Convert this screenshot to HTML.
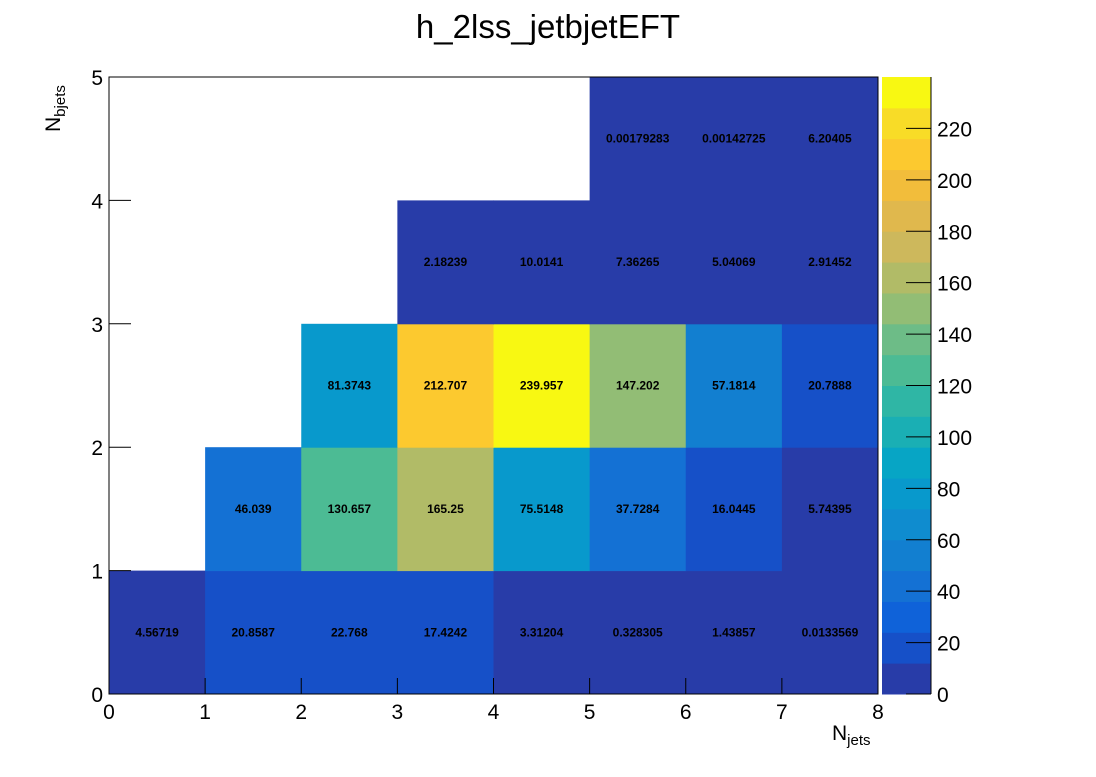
<!DOCTYPE html>
<html><head><meta charset="utf-8"><style>
body{margin:0;background:#fff;}
svg text{font-family:"Liberation Sans",sans-serif;}
</style></head><body>
<svg id="c" width="1096" height="772" xmlns="http://www.w3.org/2000/svg">
<text x="548" y="38" font-size="33" text-anchor="middle">h_2lss_jetbjetEFT</text>
<g id="cells"></g>
<g id="axes"></g>
</svg>
<script>
const xEdges = [0,1,2,3,4,5,6,7,8];
const yEdges = [0,1,2,3,4,5];
const row0 = [4.56719,20.8587,22.768,17.4242,3.31204,0.328305,1.43857,0.0133569];
const row1 = [null,46.039,130.657,165.25,75.5148,37.7284,16.0445,5.74395];
const row2 = [null,null,81.3743,212.707,239.957,147.202,57.1814,20.7888];
const row3 = [null,null,null,2.18239,10.0141,7.36265,5.04069,2.91452];
const row4 = [null,null,null,null,null,0.00179283,0.00142725,6.20405];
const zTicks = [0,20,40,60,80,100,120,140,160,180,200,220];
const zMax = 240;
const bandColors = ['#283ca8','#1650c8','#0f62d9','#1471d4','#127fd0','#0f8ccf','#0899cc','#07a5c5','#1aafb4','#2fb6a5','#4cbb94','#6dbc87','#92bd75','#b1bb67','#cdb85c','#e0b84d','#f2bd3b','#fcc92f','#f8dc27','#f8f812'];
const rows = [row0,row1,row2,row3,row4];
const NS='http://www.w3.org/2000/svg';
const X0=109,X1=878,Y0=694,Y1=77;
const sx=v=>X0+(v-xEdges[0])/(xEdges[xEdges.length-1]-xEdges[0])*(X1-X0);
const sy=v=>Y0-(v-yEdges[0])/(yEdges[yEdges.length-1]-yEdges[0])*(Y0-Y1);
const PZ0=694,PZ1=77;
const sz=v=>PZ0-v/zMax*(PZ0-PZ1);
function mk(t,a,p){const e=document.createElementNS(NS,t);for(const k in a)e.setAttribute(k,a[k]);p.appendChild(e);return e;}
const cells=document.getElementById('cells'), axes=document.getElementById('axes');
function col(v){let i=Math.floor(v/zMax*bandColors.length);if(i<0)i=0;if(i>=bandColors.length)i=bandColors.length-1;return bandColors[i];}
rows.forEach((r,j)=>r.forEach((v,i)=>{
  if(v===null)return;
  const x=sx(xEdges[i]),x2=sx(xEdges[i+1]),y=sy(yEdges[j+1]),y2=sy(yEdges[j]);
  const rc=mk('rect',{x:x,y:y,width:x2-x+0.5,height:y2-y+0.5,fill:col(v)},cells);
  
  
  const t=mk('text',{x:(x+x2)/2,y:(y+y2)/2+4,'font-size':12,'font-weight':'bold','text-anchor':'middle'},cells);
  
  
  t.textContent=String(v);
}));
const frame=mk('rect',{x:X0,y:Y1,width:X1-X0,height:Y0-Y1,fill:'none',stroke:'#000','stroke-width':1},axes);


xEdges.forEach(v=>{
  const x=sx(v);
  mk('line',{x1:x,x2:x,y1:Y0,y2:Y0-16,stroke:'#000'},axes);
  const t=mk('text',{x:x,y:719,'font-size':21,'text-anchor':'middle'},axes);
  
  
  t.textContent=v;
});
yEdges.forEach(v=>{
  const y=sy(v);
  mk('line',{x1:X0,x2:X0+22,y1:y,y2:y,stroke:'#000'},axes);
  const t=mk('text',{x:103,y:y+8,'font-size':21,'text-anchor':'end'},axes);
  
  
  t.textContent=v;
});
bandColors.forEach((c,i)=>{
  const ya=sz((i+1)*zMax/bandColors.length),yb=sz(i*zMax/bandColors.length);
  const r=mk('rect',{x:882,y:ya,width:49,height:yb-ya+0.5,fill:c},axes);
  
  
});
zTicks.forEach(v=>{
  const y=sz(v);
  mk('line',{x1:906,x2:931,y1:y,y2:y,stroke:'#000'},axes);
  const t=mk('text',{x:937,y:y+8,'font-size':21},axes);
  
  
  t.textContent=v;
});
mk('line',{x1:931,x2:931,y1:77,y2:694,stroke:'#000'},axes);
</script>
<div style="position:absolute;left:832px;top:722px;font:21px 'Liberation Sans',sans-serif;">N<sub style="font-size:15px">jets</sub></div>
<div style="position:absolute;left:0;top:0;width:110px;height:30px;transform-origin:0 0;transform:translate(42px,132px) rotate(-90deg);font:21px 'Liberation Sans',sans-serif;white-space:nowrap;">N<sub style="font-size:15px">bjets</sub></div>
</body></html>
